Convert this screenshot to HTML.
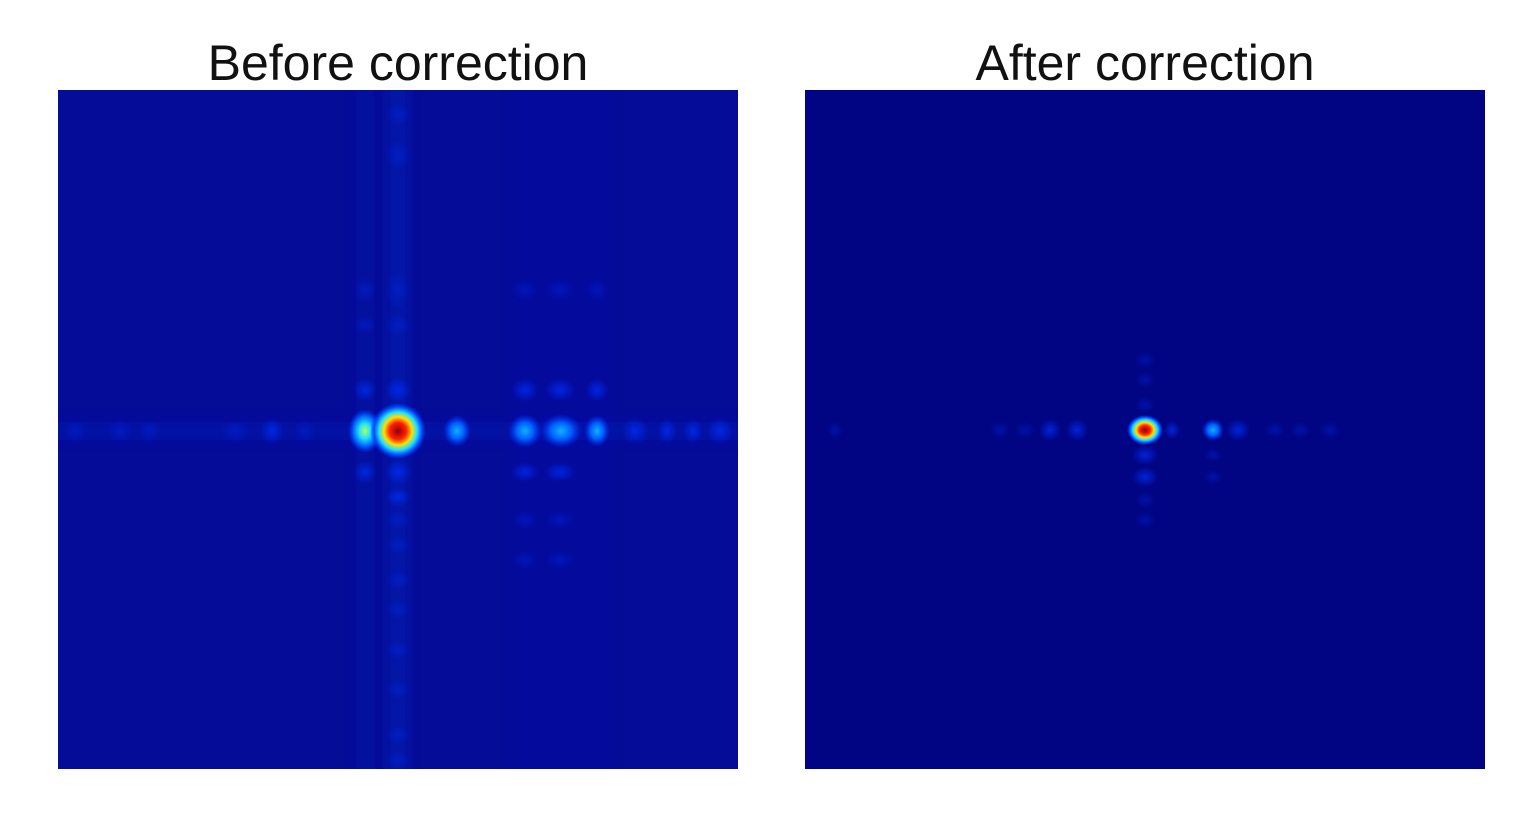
<!DOCTYPE html>
<html><head><style>
html,body{margin:0;padding:0;background:#fff;width:1539px;height:822px;overflow:hidden}
.t{position:absolute;top:34px;font:50px "Liberation Sans",sans-serif;color:#111;text-align:center;width:680px}
svg{position:absolute;left:0;top:0}
</style></head><body>
<div class="t" style="left:58px">Before correction</div>
<div class="t" style="left:805px">After correction</div>
<svg width="1539" height="822">
<defs>
<radialGradient id="hot"><stop offset="0" stop-color="#900000"/><stop offset="0.3" stop-color="#ff2000"/><stop offset="0.5" stop-color="#ffe000"/><stop offset="0.68" stop-color="#20e0ff"/><stop offset="0.85" stop-color="#0050ff"/><stop offset="1" stop-color="#0030ff" stop-opacity="0"/></radialGradient>
<radialGradient id="yc"><stop offset="0" stop-color="#b0ff60"/><stop offset="0.35" stop-color="#20e0ff"/><stop offset="0.7" stop-color="#0060ff"/><stop offset="1" stop-color="#0030ff" stop-opacity="0"/></radialGradient>
<radialGradient id="cy"><stop offset="0" stop-color="#10b0ff"/><stop offset="0.5" stop-color="#0060ff"/><stop offset="1" stop-color="#0030ff" stop-opacity="0"/></radialGradient>
<radialGradient id="bl"><stop offset="0" stop-color="#0030ff" stop-opacity="0.7"/><stop offset="1" stop-color="#0030ff" stop-opacity="0"/></radialGradient>
<radialGradient id="fb"><stop offset="0" stop-color="#0030ff" stop-opacity="0.3"/><stop offset="1" stop-color="#0030ff" stop-opacity="0"/></radialGradient>
<filter id="bf" x="-50%" y="-50%" width="200%" height="200%"><feGaussianBlur stdDeviation="6"/></filter>
<clipPath id="c1"><rect x="58" y="90" width="680" height="679"/></clipPath>
<clipPath id="c2"><rect x="805" y="90" width="680" height="679"/></clipPath>
</defs>
<rect x="58" y="90" width="680" height="679" fill="#050c98"/>
<g clip-path="url(#c1)">
<g filter="url(#bf)">
<rect x="387" y="80" width="22" height="700" fill="#0a20c0" opacity="0.4"/>
<rect x="356" y="80" width="18" height="700" fill="#0a20c0" opacity="0.2"/>
<rect x="512" y="80" width="100" height="700" fill="#0a20c0" opacity="0.1"/>
<rect x="50" y="422" width="700" height="18" fill="#0a20c0" opacity="0.35"/>
</g>
<g fill="url(#fb)">
<ellipse cx="398" cy="115" rx="14" ry="12"/><ellipse cx="398" cy="155" rx="14" ry="16"/><ellipse cx="398" cy="290" rx="14" ry="20"/><ellipse cx="398" cy="325" rx="14" ry="12"/>
<ellipse cx="365" cy="290" rx="12" ry="14"/><ellipse cx="365" cy="325" rx="12" ry="10"/>
<ellipse cx="398" cy="520" rx="14" ry="10"/><ellipse cx="398" cy="545" rx="14" ry="10"/><ellipse cx="398" cy="580" rx="14" ry="10"/><ellipse cx="398" cy="610" rx="14" ry="10"/><ellipse cx="398" cy="650" rx="14" ry="10"/><ellipse cx="398" cy="690" rx="14" ry="10"/><ellipse cx="398" cy="735" rx="14" ry="10"/><ellipse cx="398" cy="760" rx="14" ry="10"/>
<ellipse cx="525" cy="290" rx="14" ry="12"/><ellipse cx="560" cy="290" rx="16" ry="12"/><ellipse cx="597" cy="290" rx="12" ry="12"/>
<ellipse cx="525" cy="520" rx="14" ry="10"/><ellipse cx="560" cy="520" rx="16" ry="10"/><ellipse cx="525" cy="560" rx="14" ry="10"/><ellipse cx="560" cy="560" rx="16" ry="10"/>
<ellipse cx="75" cy="431" rx="12" ry="12"/><ellipse cx="120" cy="431" rx="14" ry="12"/><ellipse cx="150" cy="431" rx="12" ry="12"/><ellipse cx="235" cy="431" rx="16" ry="12"/><ellipse cx="305" cy="431" rx="12" ry="12"/>
</g>
<g fill="url(#bl)">
<ellipse cx="398" cy="390" rx="14" ry="13"/><ellipse cx="365" cy="390" rx="12" ry="12"/><ellipse cx="398" cy="472" rx="14" ry="13"/><ellipse cx="365" cy="472" rx="12" ry="12"/>
<ellipse cx="398" cy="497" rx="13" ry="10"/><ellipse cx="525" cy="390" rx="14" ry="12"/><ellipse cx="560" cy="390" rx="16" ry="12"/><ellipse cx="597" cy="390" rx="12" ry="12"/>
<ellipse cx="272" cy="431" rx="12" ry="14"/><ellipse cx="635" cy="431" rx="14" ry="14"/><ellipse cx="667" cy="431" rx="10" ry="13"/><ellipse cx="693" cy="431" rx="10" ry="13"/><ellipse cx="720" cy="431" rx="14" ry="14"/>
<ellipse cx="525" cy="472" rx="14" ry="10"/><ellipse cx="560" cy="472" rx="16" ry="10"/>
</g>
<g fill="url(#cy)">
<ellipse cx="457" cy="431" rx="14" ry="16"/><ellipse cx="525" cy="431" rx="17" ry="17"/><ellipse cx="561" cy="431" rx="21" ry="17"/><ellipse cx="597" cy="431" rx="13" ry="16"/>
</g>
<ellipse cx="365" cy="431" rx="17" ry="22" fill="url(#yc)"/>
<ellipse cx="398" cy="431" rx="28" ry="28" fill="url(#hot)"/>
</g>
<rect x="805" y="90" width="680" height="679" fill="#010584"/>
<g clip-path="url(#c2)">
<g fill="url(#fb)">
<ellipse cx="1145" cy="360" rx="10" ry="8"/><ellipse cx="1145" cy="380" rx="10" ry="8"/><ellipse cx="1145" cy="405" rx="10" ry="8"/>
<ellipse cx="1145" cy="500" rx="10" ry="8"/><ellipse cx="1145" cy="520" rx="10" ry="8"/>
<ellipse cx="835" cy="430" rx="8" ry="8"/><ellipse cx="1000" cy="430" rx="10" ry="8"/><ellipse cx="1025" cy="430" rx="10" ry="8"/><ellipse cx="1275" cy="430" rx="10" ry="8"/><ellipse cx="1300" cy="430" rx="10" ry="8"/><ellipse cx="1330" cy="430" rx="10" ry="8"/>
<ellipse cx="1213" cy="455" rx="9" ry="7"/><ellipse cx="1213" cy="477" rx="9" ry="7"/>
</g>
<g fill="url(#bl)">
<ellipse cx="1145" cy="455" rx="13" ry="10"/><ellipse cx="1145" cy="477" rx="13" ry="10"/><ellipse cx="1172" cy="430" rx="8" ry="9"/>
<ellipse cx="1050" cy="430" rx="11" ry="11"/><ellipse cx="1077" cy="430" rx="11" ry="11"/><ellipse cx="1238" cy="430" rx="12" ry="11"/>
</g>
<ellipse cx="1213" cy="430" rx="11" ry="11" fill="url(#cy)"/>
<ellipse cx="1145" cy="430" rx="18" ry="15" fill="url(#hot)"/>
</g>
</svg>
</body></html>
